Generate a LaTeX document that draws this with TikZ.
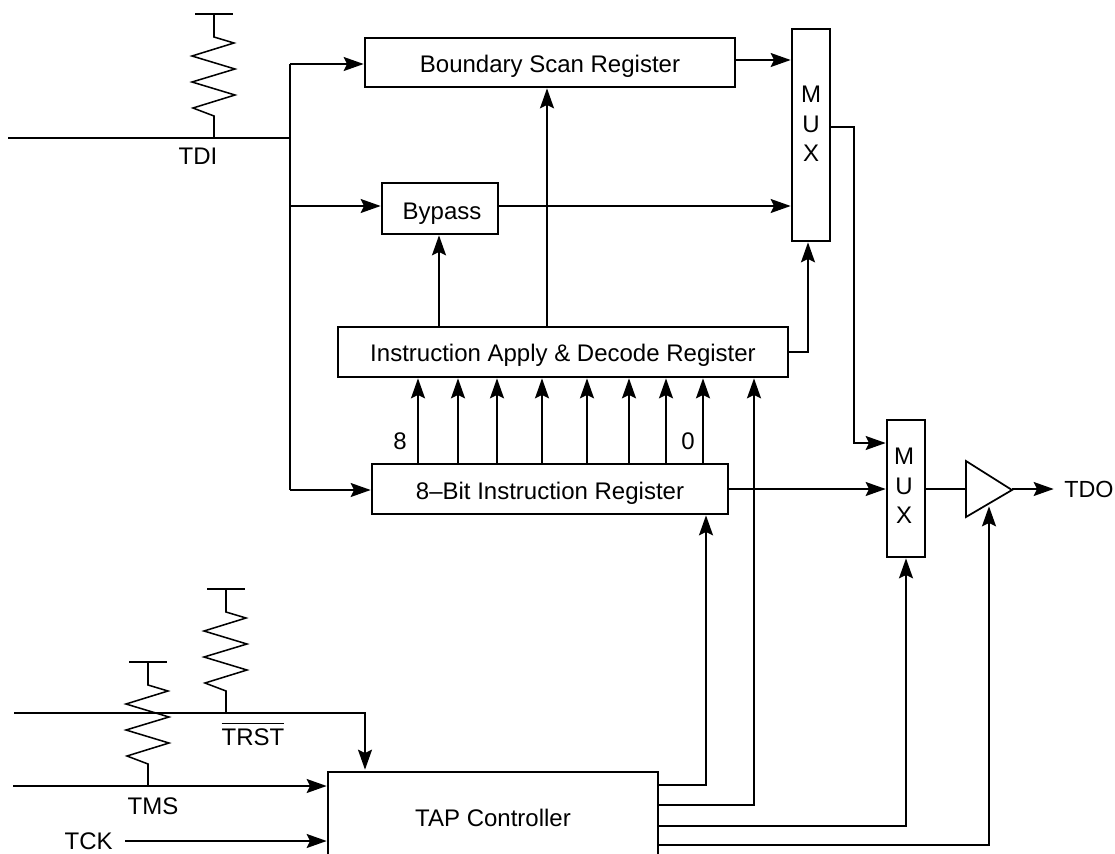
\documentclass[tikz,border=0pt]{standalone}
\usepackage{fontspec}
\setmainfont{Liberation Sans}
\usetikzlibrary{arrows.meta,calc}
\tikzset{
  wire/.style={line width=1.3pt,line cap=butt,line join=miter},
  arr/.style={wire,shorten >=1pt,-{Stealth[length=15pt,width=10.5pt,inset=2.5pt]}},
  regbox/.style={draw,line width=1.3pt,rectangle,inner sep=0pt,outer sep=0pt,font=\fontsize{18}{22}\selectfont,align=center},
  lbl/.style={inner sep=0pt,font=\fontsize{18}{22}\selectfont},
  stack/.style={inner sep=0pt,align=center,font=\fontsize{18}{22}\selectfont}
}
\newcommand{\pullup}[3]{% x, y of bar, y of signal line
  \draw[wire,line width=1.15pt] ({#1-19},#2) -- ({#1+19},#2);
  \draw[wire,line width=1.15pt] (#1,#2) -- (#1,{#2+23}) -- ({#1+20},{#2+29}) -- ({#1-22},{#2+42}) -- ({#1+21},{#2+55}) -- ({#1-22},{#2+68}) -- ({#1+21},{#2+81}) -- ({#1-21},{#2+94}) -- (#1,{#2+102}) -- (#1,#3);
}
\begin{document}
\begin{tikzpicture}[x=0.75pt,y=-0.75pt]
\useasboundingbox (0,0) rectangle (1115,854);
% boxes
\node[regbox,minimum width=277.5pt,minimum height=36.75pt] (bsr) at (550,62.5) {\raisebox{-7.5pt}[0pt][0pt]{Boundary Scan Register}};
\node[regbox,minimum width=87pt,minimum height=38.25pt] (byp) at (440,208.5) {\raisebox{-8.2pt}[0pt][0pt]{\,Bypass}};
\node[regbox,minimum width=337.5pt,minimum height=37.5pt] (iadr) at (563,352) {\raisebox{-7.1pt}[0pt][0pt]{Instruction Apply \& Decode Register}};
\node[regbox,minimum width=267pt,minimum height=37.5pt] (ir) at (550,489) {\raisebox{-7.9pt}[0pt][0pt]{8–Bit Instruction Register}};
\node[regbox,minimum width=28.5pt,minimum height=159pt] (muxa) at (811,135) {};
\node[stack] (muxal) at (811,124) {M\\U\\X};
\node[regbox,minimum width=28.5pt,minimum height=102.75pt] (muxb) at (906,488.5) {};
\node[stack] (muxbl) at (904,486) {M\\U\\X};
% TAP controller, open at the bottom of the picture
\coordinate (tapnw) at (328,772);
\coordinate (tapne) at (658,772);
\coordinate (tapsw) at (328,854);
\coordinate (tapse) at (658,854);
\draw[wire] (tapsw) -- (tapnw) -- (tapne) -- (tapse);
\node[lbl] (tap) at (493,818) {TAP Controller};
% buffer
\coordinate (bufa) at (966,461);
\coordinate (bufb) at (966,517);
\coordinate (bufc) at (1012,490);
\draw[wire,line join=miter] (bufa) -- (bufc) -- (bufb) -- cycle;
% TDI
\coordinate (tdil) at (8,138);
\coordinate (tdij) at (290,138);
\coordinate (tdit) at (290,64);
\coordinate (tdik) at (322,63.4);
\coordinate (tdim) at (290,206);
\coordinate (tdib) at (290,490);
\draw[wire] (tdil) -- (tdij);
\draw[wire] (tdit) -- (tdib);
\draw[arr] (tdit) -- (tdit -| bsr.west);
\draw[wire] (tdit |- tdik) -- (tdik);
\draw[arr] (tdim) -- (tdim -| byp.west);
\draw[arr] (tdib) -- (tdib -| ir.west);
\pullup{214}{14}{138}
\node[lbl] (tdilab) at (198,156) {TDI};
% register outputs
\coordinate (bsro) at (bsr.east |- 0,60);
\draw[arr] (bsro) -- (bsro -| muxa.west);
\coordinate (bypo) at (byp.east |- 0,206);
\draw[arr] (bypo) -- (bypo -| muxa.west);
\coordinate (c1) at (439,327);
\draw[arr] (c1) -- (c1 |- byp.south);
\coordinate (c2) at (547,327);
\draw[arr] (c2) -- (c2 |- bsr.south);
\coordinate (c3) at (808,352);
\draw[arr] (iadr.east) -- (c3) -- (c3 |- muxa.south);
\coordinate (m1) at (854,127);
\coordinate (m2) at (854,443);
\draw[arr] (m1 -| muxa.east) -- (m1) -- (m2) -- (m2 -| muxb.west);
% bus
\foreach \bx/\bn in {418/a,458/b,497/c,542/d,587/e,629/f,666/g,703/h}{
  \coordinate (bus\bn) at (\bx,464);
  \draw[arr] (bus\bn) -- (bus\bn |- iadr.south);
}
\node[lbl] (b8) at (400,441) {8};
\node[lbl] (b0) at (688,441) {0};
% to second mux and buffer
\coordinate (iro) at (ir.east |- 0,489);
\draw[arr] (iro) -- (iro -| muxb.west);
\coordinate (mbo) at (muxb.east |- 0,489);
\draw[wire] (mbo) -- (mbo -| bufa);
\coordinate (tdoend) at (1055,489);
\draw[arr] (bufc |- tdoend) -- (tdoend);
\node[lbl,anchor=west] (tdo) at (1064,489) {\fontsize{17.5}{22}\selectfont TDO};
% TAP outputs
\coordinate (t1) at (658,785);
\coordinate (t1u) at (706,785);
\draw[arr] (t1) -- (t1u) -- (t1u |- ir.south);
\coordinate (t2) at (658,805);
\coordinate (t2u) at (754,805);
\draw[arr] (t2) -- (t2u) -- (t2u |- iadr.south);
\coordinate (t3) at (658,826);
\coordinate (t3u) at (906,826);
\draw[arr] (t3) -- (t3u) -- (t3u |- muxb.south);
\coordinate (t4) at (658,845);
\coordinate (t4u) at (989,845);
\coordinate (t4e) at (989,505);
\draw[arr] (t4) -- (t4u) -- (t4e);
% TAP inputs
\coordinate (trl) at (14,713);
\coordinate (trr) at (365,713);
\coordinate (trd) at (365,771);
\draw[arr] (trl) -- (trr) -- (trd);
\pullup{226}{589}{713}
\node[lbl,anchor=base] (trst) at (253,745) {$\overline{\mbox{\rule{0pt}{14.6pt}TRST}}$};
\coordinate (tmsl) at (13,786);
\draw[arr] (tmsl) -- (tmsl -| tapnw);
\pullup{148}{662}{786}
\node[lbl] (tms) at (153,806) {TMS};
\node[lbl,anchor=east] (tck) at (113,841) {TCK};
\coordinate (tckl) at (125,841);
\draw[arr] (tckl) -- (tckl -| tapnw);
\end{tikzpicture}
\end{document}
